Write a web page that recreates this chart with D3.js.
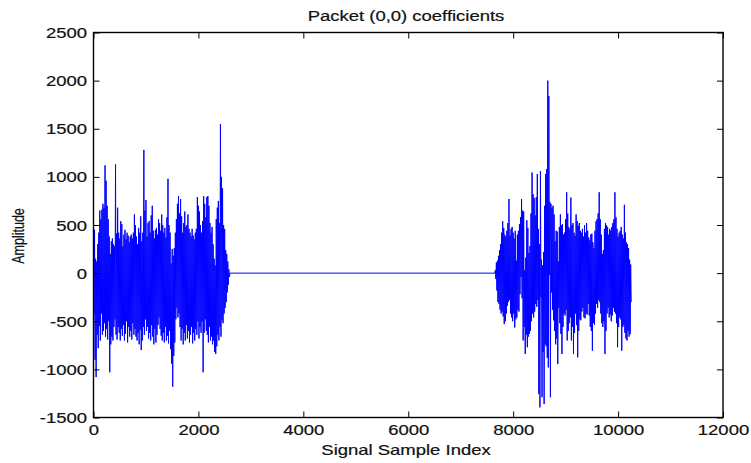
<!DOCTYPE html>
<html><head><meta charset="utf-8">
<script src="https://cdn.jsdelivr.net/npm/d3@7"></script>
<style>body{margin:0;background:#fff}svg{display:block}</style>
</head><body><svg id="c" width="751" height="463"></svg>
<script>
const chartTitle = "Packet (0,0) coefficients";
const xLabel = "Signal Sample Index";
const yLabel = "Amplitude";
const xTicks = [0, 2000, 4000, 6000, 8000, 10000, 12000];
const yTicks = [-1500, -1000, -500, 0, 500, 1000, 1500, 2000, 2500];
const xDomain = [0, 12000];
const yDomain = [-1500, 2500];
const sampleStep = 20;
const burst1Start = 0;
const burst2Start = 7660;
const burst1Max = [520,450,150,120,300,420,650,560,660,720,680,1120,960,700,560,380,200,330,360,300,280,1130,410,680,420,360,540,510,280,400,450,350,420,390,320,380,400,360,420,610,500,380,300,470,420,590,330,420,1280,650,760,380,520,540,420,600,700,440,360,450,470,400,560,520,440,610,500,420,470,370,580,980,500,420,100,250,180,260,420,560,720,800,620,770,590,420,520,640,480,500,610,460,420,380,460,390,350,420,460,790,700,640,500,420,540,800,720,580,790,800,700,520,420,480,300,150,80,560,680,750,520,1550,1000,880,500,460,240,200,120,40];
const burst1Min = [-430,-900,-1080,-640,-780,-550,-700,-420,-640,-600,-520,-660,-580,-690,-500,-1030,-740,-660,-700,-560,-480,-640,-690,-560,-620,-700,-580,-650,-540,-700,-630,-500,-720,-560,-660,-600,-690,-520,-640,-580,-660,-700,-620,-740,-590,-800,-700,-560,-640,-480,-600,-560,-680,-620,-700,-540,-660,-740,-580,-720,-640,-540,-460,-580,-650,-700,-620,-720,-560,-700,-650,-730,-600,-790,-940,-1180,-860,-720,-480,-360,-460,-420,-560,-700,-580,-740,-620,-700,-540,-680,-600,-720,-640,-560,-730,-620,-700,-580,-640,-500,-680,-560,-620,-500,-1030,-620,-480,-600,-640,-720,-560,-700,-660,-740,-700,-820,-840,-760,-640,-700,-560,-660,-490,-520,-420,-360,-300,-200,-120,-40];
const burst2Max = [30,110,130,180,240,300,420,540,470,400,380,440,520,770,390,460,480,420,360,440,130,400,440,510,580,770,650,640,30,160,550,470,210,280,620,1045,820,780,600,790,1030,460,300,1060,140,80,220,700,1030,1080,2000,1840,740,720,680,700,610,330,440,430,120,480,610,500,510,400,420,560,840,620,480,460,785,500,520,420,390,610,540,490,520,440,420,460,380,500,420,520,440,370,340,400,410,320,260,440,540,560,620,840,560,400,200,240,460,520,500,480,400,460,440,480,520,560,840,580,460,380,420,440,480,400,360,710,420,320,300,260,140,90];
const burst2Min = [-60,-180,-300,-320,-380,-420,-400,-450,-530,-500,-420,-340,-300,-280,-420,-460,-500,-420,-565,-480,-460,-380,-400,-220,-40,-260,-700,-560,-840,-640,-770,-660,-630,-600,-500,-420,-460,-400,-320,-350,-280,-1257,-1395,-250,-1290,-820,-1360,-740,-760,-880,-980,-20,-1290,-200,-380,-490,-600,-740,-680,-945,-360,-520,-630,-840,-560,-420,-440,-380,-700,-600,-520,-460,-700,-560,-840,-620,-420,-540,-875,-600,-480,-490,-400,-360,-460,-470,-420,-430,-320,-440,-560,-600,-806,-520,-540,-420,-320,-360,-280,-300,-420,-520,-560,-500,-840,-600,-420,-360,-460,-430,-500,-440,-360,-400,-420,-520,-770,-560,-460,-480,-806,-560,-540,-620,-680,-700,-600,-660,-633,-300];

const W = 751, H = 463;
const plot = {left: 93.5, right: 723, top: 32.5, bottom: 417.5};
const fontFamily = "'Liberation Sans', Arial, sans-serif";
const textScaleX = 1.32;
const fontSize = 14;

const svg = d3.select("#c");
const x = d3.scaleLinear().domain(xDomain).range([plot.left, plot.right]);
const y = d3.scaleLinear().domain(yDomain).range([plot.bottom, plot.top]);

// build signal points
const points = [];
function addBurst(start, maxArr, minArr) {
  for (let i = 0; i < maxArr.length; i++) {
    points.push([start + i * sampleStep, maxArr[i]]);
    points.push([start + i * sampleStep + sampleStep / 2, minArr[i]]);
  }
}
addBurst(burst1Start, burst1Max, burst1Min);
points.push([burst1Start + burst1Max.length * sampleStep, 0]);
points.push([burst2Start - sampleStep / 2, 0]);
addBurst(burst2Start, burst2Max, burst2Min);

const line = d3.line().x(d => x(d[0])).y(d => y(d[1]));
svg.append("path").datum(points)
  .attr("d", line).attr("fill", "none")
  .attr("stroke", "#0000ff").attr("stroke-width", 1);

// frame
svg.append("rect").attr("x", plot.left).attr("y", plot.top)
  .attr("width", plot.right - plot.left).attr("height", plot.bottom - plot.top)
  .attr("fill", "none").attr("stroke", "#000").attr("stroke-width", 1.4);

// axes with inward ticks
const tl = 6;
const gx = svg.append("g").attr("transform", `translate(0,${plot.bottom})`)
  .call(d3.axisBottom(x).tickValues(xTicks).tickSizeInner(-tl).tickSizeOuter(0).tickFormat(d => String(d)));
const gxt = svg.append("g").attr("transform", `translate(0,${plot.top})`)
  .call(d3.axisTop(x).tickValues(xTicks).tickSizeInner(-tl).tickSizeOuter(0).tickFormat(""));
const gy = svg.append("g").attr("transform", `translate(${plot.left},0)`)
  .call(d3.axisLeft(y).tickValues(yTicks).tickSizeInner(-tl).tickSizeOuter(0).tickFormat(d => String(d)));
const gyr = svg.append("g").attr("transform", `translate(${plot.right},0)`)
  .call(d3.axisRight(y).tickValues(yTicks).tickSizeInner(-tl).tickSizeOuter(0).tickFormat(""));
[gx, gxt, gy, gyr].forEach(g => {
  g.select(".domain").remove();
  g.selectAll(".tick line").attr("stroke", "#000").attr("stroke-width", 1);
});
gx.selectAll(".tick text").each(function() {
  const t = d3.select(this);
  t.attr("y", null).attr("dy", null)
   .attr("transform", `translate(0,17.5) scale(${textScaleX},1)`);
});
gy.selectAll(".tick text").each(function() {
  const t = d3.select(this);
  t.attr("x", null).attr("dy", null)
   .attr("transform", `translate(-6.5,5) scale(${textScaleX},1)`);
});
svg.selectAll(".tick text").attr("font-family", fontFamily).attr("font-size", fontSize)
  .attr("fill", "#111").attr("stroke", "#111").attr("stroke-width", 0.2);

// labels
svg.append("text").attr("transform", `translate(406,20.5) scale(${textScaleX},1)`)
  .attr("text-anchor", "middle").attr("font-family", fontFamily).attr("font-size", fontSize)
  .attr("fill", "#111").attr("stroke", "#111").attr("stroke-width", 0.2).text(chartTitle);
svg.append("text").attr("transform", `translate(406,455) scale(${textScaleX},1)`)
  .attr("text-anchor", "middle").attr("font-family", fontFamily).attr("font-size", fontSize)
  .attr("fill", "#111").attr("stroke", "#111").attr("stroke-width", 0.2).text(xLabel);
svg.append("text").attr("transform", `translate(24,236) scale(${textScaleX},1) rotate(-90)`)
  .attr("text-anchor", "middle").attr("font-family", fontFamily).attr("font-size", 12.5)
  .attr("fill", "#111").attr("stroke", "#111").attr("stroke-width", 0.2).text(yLabel);
</script></body></html>
